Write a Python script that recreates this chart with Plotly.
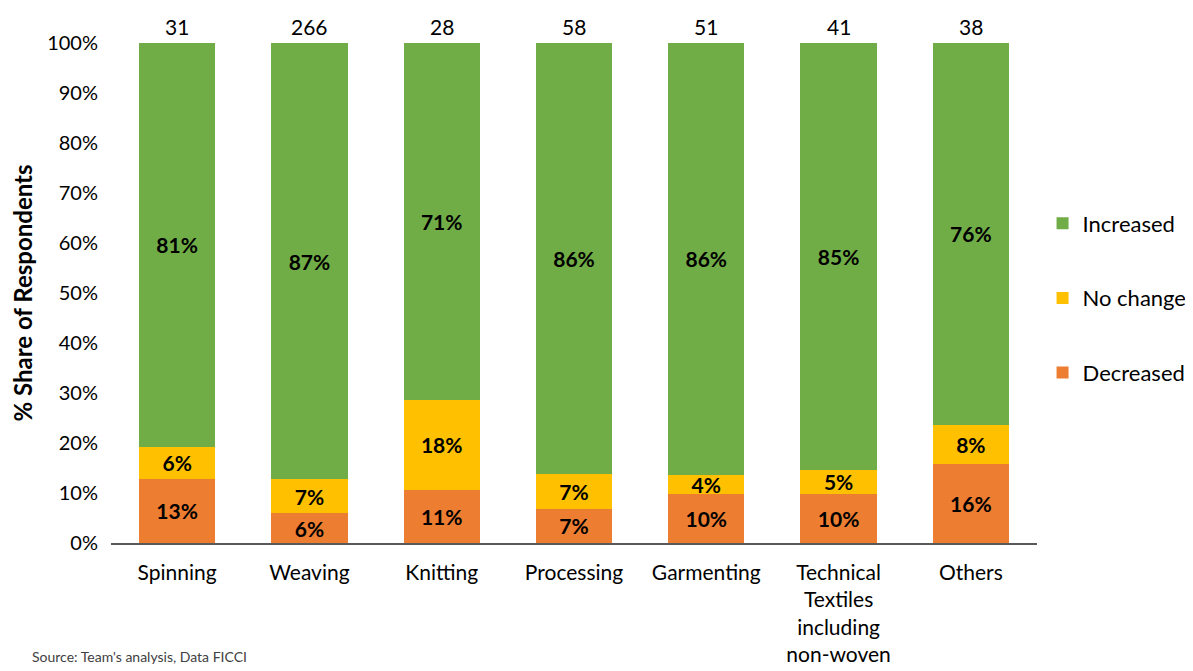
import plotly.graph_objects as go

categories = ["Spinning", "Weaving", "Knitting", "Processing", "Garmenting",
              "Technical<br>Textiles<br>including<br>non-woven", "Others"]
respondents = [31, 266, 28, 58, 51, 41, 38]
decreased = [0.129, 0.060, 0.107, 0.069, 0.098, 0.098, 0.158]
no_change = [0.064, 0.068, 0.179, 0.069, 0.039, 0.049, 0.079]
increased = [0.807, 0.872, 0.714, 0.862, 0.863, 0.853, 0.763]

FONT = "Lato, 'Open Sans', sans-serif"
label_font = dict(family=FONT, size=21, color="black")

fig = go.Figure()
series = [("Decreased", decreased, "#ED7D31", 3),
          ("No change", no_change, "#FFC000", 2),
          ("Increased", increased, "#70AD47", 1)]
for name, vals, col, rank in series:
    fig.add_trace(go.Bar(
        x=categories, y=vals, name=name, legendgroup=name, legendrank=rank,
        marker=dict(color=col, line=dict(width=0)),
        texttemplate="<b>%{y:.0%}</b>", textposition="inside",
        insidetextanchor="middle", textangle=0, constraintext="none",
        textfont=label_font, hoverinfo="skip",
    ))

for c, n in zip(categories, respondents):
    fig.add_annotation(x=c, y=1.0, xref="x", yref="y", text=str(n),
                       showarrow=False, yanchor="bottom", yshift=2,
                       font=dict(family=FONT, size=21, color="black"))

fig.add_annotation(x=-0.088, y=-0.205, xref="paper", yref="paper",
                   text="Source: Team's analysis, Data FICCI", showarrow=False,
                   xanchor="left", yanchor="top",
                   font=dict(family=FONT, size=14, color="#404040"))

fig.update_layout(
    barmode="stack", bargap=0.424,
    width=1193, height=671,
    margin=dict(l=103, r=164, t=35, b=136, autoexpand=False),
    plot_bgcolor="white", paper_bgcolor="white",
    font=dict(family=FONT, size=20, color="black"),
    uniformtext=dict(minsize=21, mode="show"),
    showlegend=True,
    legend=dict(x=1.006, y=0.49, xanchor="left", yanchor="middle",
                traceorder="grouped", tracegroupgap=43,
                font=dict(family=FONT, size=22, color="black"),
                itemwidth=30),
    yaxis=dict(range=[0, 1], tickformat=".0%", dtick=0.1, showgrid=False,
               zeroline=False, showline=False, ticks="", ticklabelstandoff=12,
               title=dict(text="<b>% Share of Respondents</b>",
                          font=dict(family=FONT, size=24), standoff=12),
               tickfont=dict(family=FONT, size=20)),
    xaxis=dict(showline=True, linecolor="#595959", linewidth=1.5, ticks="",
               tickfont=dict(family=FONT, size=21), ticklabelstandoff=10),
)

fig.write_html("out.html")
